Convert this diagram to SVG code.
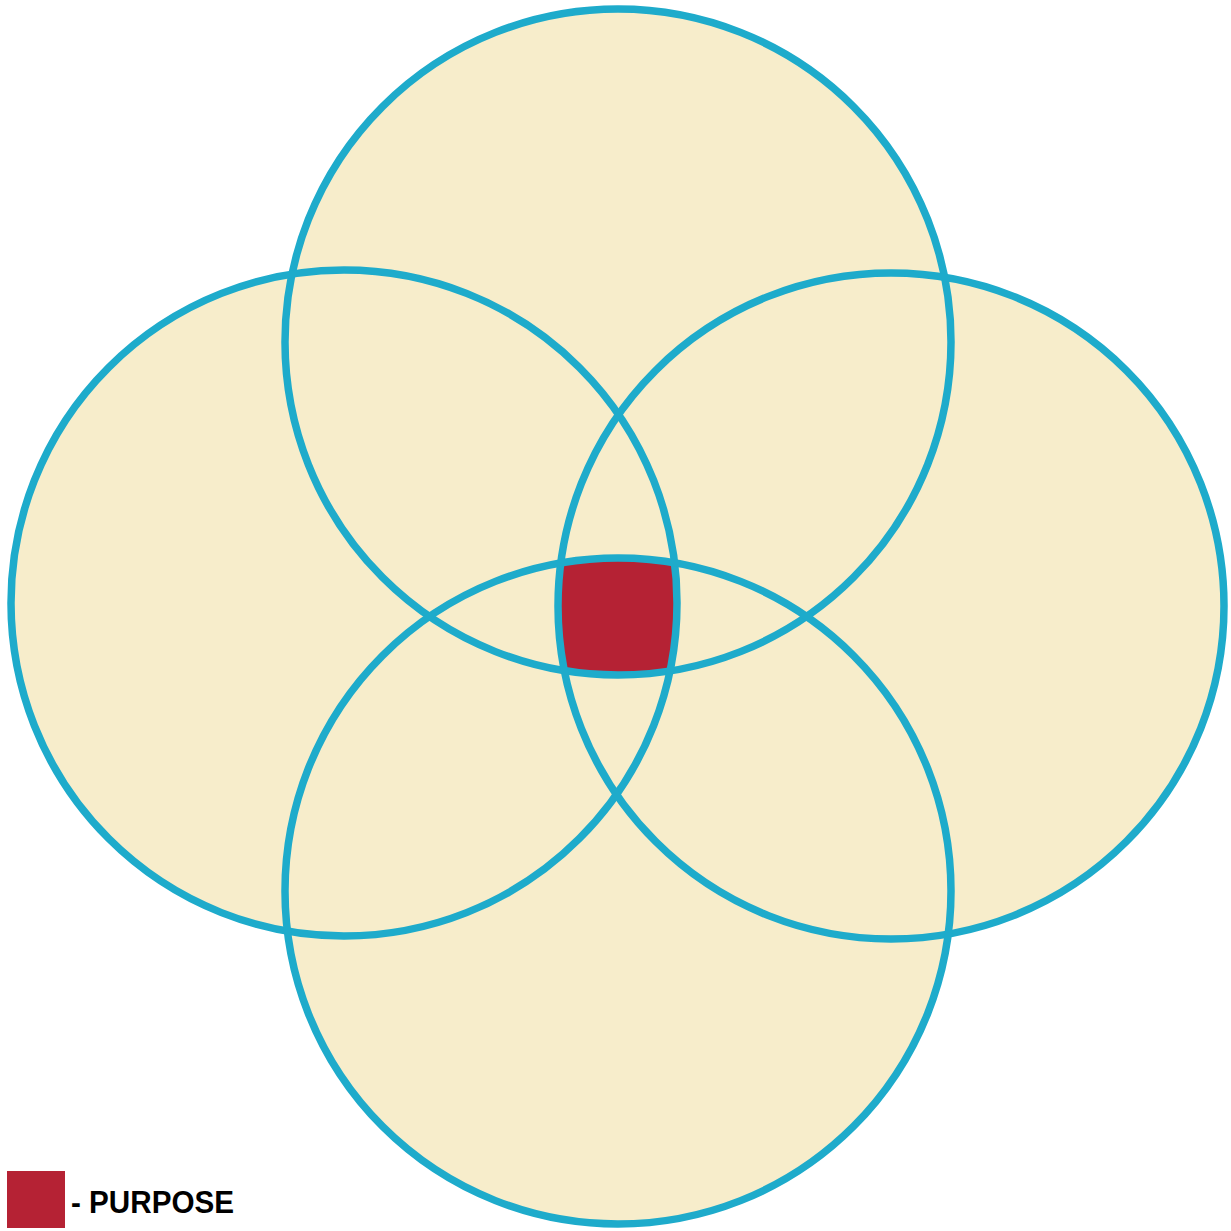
<svg xmlns="http://www.w3.org/2000/svg" width="1231" height="1231" viewBox="0 0 1231 1231">
<defs>
<style>
.fill{fill:#F7EDCB;stroke:none}
.ring{fill:none;stroke:#1EABCB;stroke-width:7.5}
.lbl{font-family:"Liberation Sans",Arial,sans-serif;font-weight:bold;font-size:31px;fill:#000}
</style>
<clipPath id="cT"><circle cx="618" cy="342" r="333"/></clipPath>
<clipPath id="cL"><circle cx="344" cy="603" r="333"/></clipPath>
<clipPath id="cR"><circle cx="891" cy="606" r="333"/></clipPath>
</defs>
<rect width="1231" height="1231" fill="#fff"/>
<g id="fills">
<circle class="fill" cx="618" cy="342" r="333"/>
<circle class="fill" cx="344" cy="603" r="333"/>
<circle class="fill" cx="891" cy="606" r="333"/>
<circle class="fill" cx="618" cy="891" r="333"/>
</g>
<g id="purpose-region" clip-path="url(#cT)"><g clip-path="url(#cL)"><g clip-path="url(#cR)">
<circle cx="618" cy="891" r="333" fill="#B52234"/>
</g></g></g>
<g id="circle-top"><circle class="ring" cx="618" cy="342" r="333"/></g>
<g id="circle-left"><circle class="ring" cx="344" cy="603" r="333"/></g>
<g id="circle-right"><circle class="ring" cx="891" cy="606" r="333"/></g>
<g id="circle-bottom"><circle class="ring" cx="618" cy="891" r="333"/></g>
<g id="legend">
<rect x="7" y="1171" width="58" height="57" fill="#B52234"/>
<text class="lbl" x="71" y="1213" textLength="163" lengthAdjust="spacingAndGlyphs">- PURPOSE</text>
</g>
</svg>
